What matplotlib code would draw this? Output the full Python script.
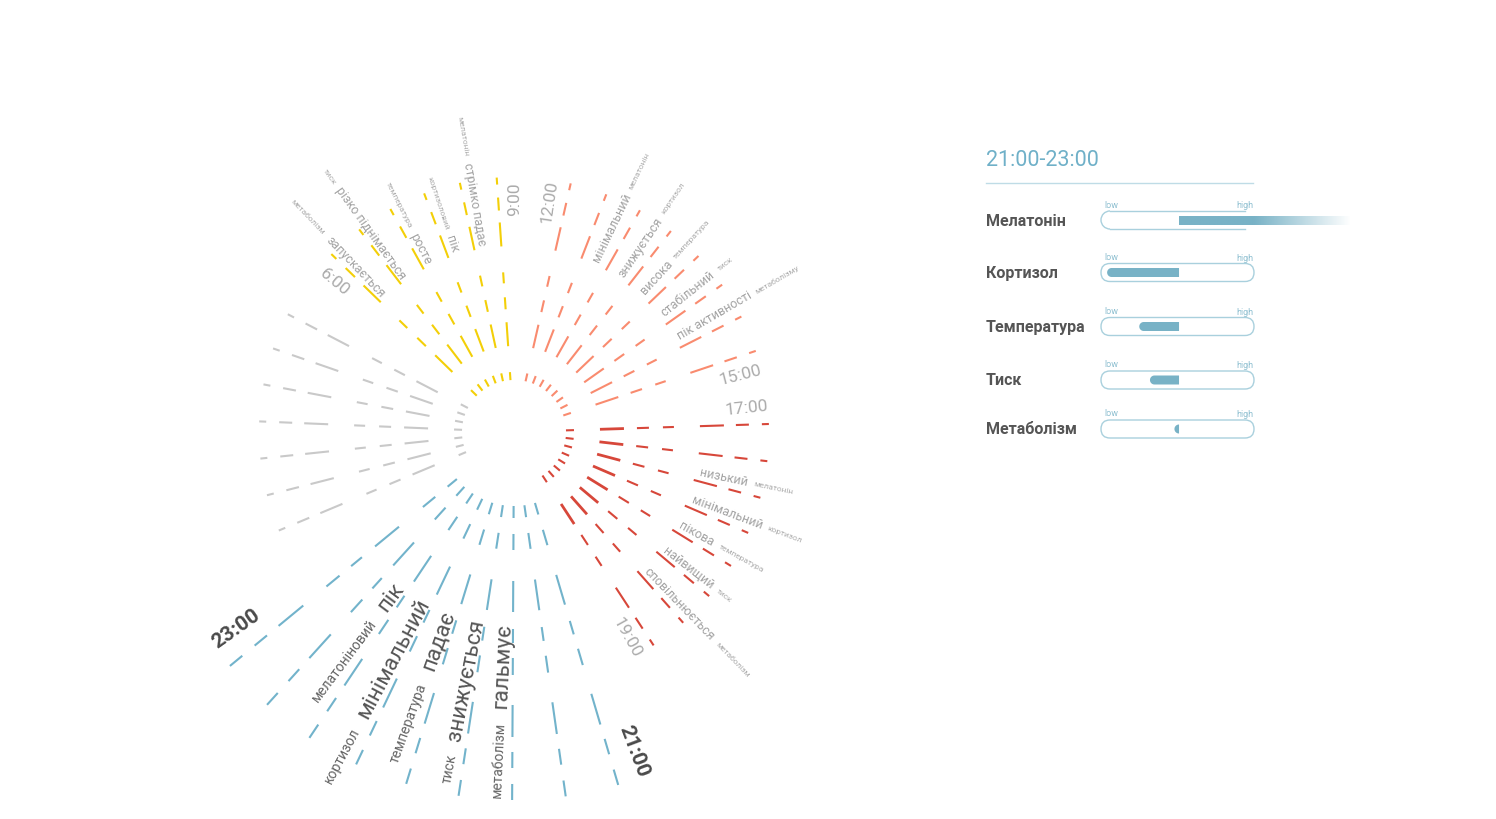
import numpy as np
import matplotlib
matplotlib.use("Agg")
import matplotlib.pyplot as plt
from matplotlib.patches import Arc, FancyBboxPatch
from matplotlib.textpath import TextPath
from matplotlib.font_manager import FontProperties

plt.rcParams['font.family'] = ['Roboto', 'DejaVu Sans']

# ---------------- radial chart data ----------------
N_SLOTS = 43          # ray slots around the circle
START_DEG = 1.8       # angle of slot 0 (deg, counter-clockwise from east)

sector_colors = ['#D7473A', '#72B3CB', '#C9C9C9', '#F3CF08', '#F98B6F']
sector_first_slot = [0, 9, 19, 27, 34]
sector_ray_count = [8, 9, 7, 6, 8]
selected_sector = 1   # 21:00-23:00

# dash radii along every ray (px from the centre)
dash_r0 = [52, 86, 123, 149, 186, 222, 248]
dash_r1 = [60, 110, 135, 160, 210, 235, 255]
selected_r0 = [74, 102, 149, 197, 226, 273, 320, 352]
selected_r1 = [86, 118, 180, 211, 243, 305, 336, 368]

time_labels = ['17:00', '19:00', '21:00', '23:00', '6:00', '9:00', '12:00', '15:00']
time_slots = [-0.5, 7.5, 8.5, 17.5, 26.5, 32.5, 33.5, 41.5]

red_words = ['низький', 'мінімальний', 'пікова', 'найвищий', 'сповільнюється']
red_vars = ['мелатонін', 'кортизол', 'температура', 'тиск', 'метаболізм']
red_slots = [1.65, 2.68, 3.68, 4.73, 5.72]

blue_words = ['пік', 'мінімальний', 'падає', 'знижується', 'гальмує']
blue_vars = ['мелатоніновий', 'кортизол', 'температура', 'тиск', 'метаболізм']
blue_slots = [15.35, 14.32, 13.36, 12.27, 11.28]

yellow_words = ['запускається', 'різко піднімається', 'росте', 'пік', 'стрімко падає']
yellow_vars = ['метаболізм', 'тиск', 'температура', 'кортизоловий', 'мелатонін']
yellow_slots = [27.25, 28.2, 29.25, 30.28, 31.3]

orange_words = ['мінімальний', 'знижується', 'висока', 'стабільний', 'пік активності']
orange_vars = ['мелатонін', 'кортизол', 'температура', 'тиск', 'метаболізму']
orange_slots = [35.52, 36.55, 37.55, 38.6, 39.6]

# ---------------- side panel data ----------------
panel_title = '21:00-23:00'
panel_vars = ['Мелатонін', 'Кортизол', 'Температура', 'Тиск', 'Метаболізм']
level_start = [0.51, 0.04, 0.25, 0.32, 0.48]
level_end = [1.63, 0.51, 0.51, 0.51, 0.51]   # melatonin runs past "high" and fades

W, H, DPI = 1496, 820, 100
CX, CY, R = 514, 433, 420

fig = plt.figure(figsize=(W / DPI, H / DPI), dpi=DPI)
fig.patch.set_facecolor('white')

panel = fig.add_axes([0, 0, 1, 1])
panel.set_xlim(0, W)
panel.set_ylim(H, 0)
panel.axis('off')

rad = fig.add_axes([(CX - R) / W, (H - CY - R) / H, 2 * R / W, 2 * R / H], projection='polar')
rad.set_ylim(0, R)
rad.set_axis_off()


def slot_deg(s):
    return START_DEG - s * 360.0 / N_SLOTS


def text_px(s, size, weight='normal'):
    fp = FontProperties(family='Roboto', size=size, weight=weight)
    return TextPath((0, 0), s, prop=fp).get_extents().width * DPI / 72


def radial_text(slot, r, s, end='center', **kw):
    deg = slot_deg(slot)
    d = (deg + 180) % 360 - 180
    outward = -91 <= d <= 91
    rot = d if outward else (d - 180 if d > 0 else d + 180)
    if end == 'center':
        ha = 'center'
    else:
        ha = 'left' if outward else 'right'
    rad.text(np.radians(deg), r, s, rotation=rot, rotation_mode='anchor',
             ha=ha, va='center', **kw)


# rays
for k, (color, first, count) in enumerate(zip(sector_colors, sector_first_slot, sector_ray_count)):
    sel = k == selected_sector
    r0s, r1s = (selected_r0, selected_r1) if sel else (dash_r0, dash_r1)
    for slot in range(first, first + count):
        th = np.radians(slot_deg(slot))
        for j, (a, b) in enumerate(zip(r0s, r1s)):
            lw = 1.5
            if k == 0 and j == 1:
                lw = 2.0
            rad.plot([th, th], [a, b], color=color, lw=lw, solid_capstyle='butt')

# time labels
sel_first = sector_first_slot[selected_sector]
sel_last = sel_first + sector_ray_count[selected_sector] - 1
for txt, s in zip(time_labels, time_slots):
    if sel_first - 0.5 <= s <= sel_last + 0.5:
        radial_text(s, 340, txt, fontsize=15, color='#4A4A4A', weight='bold')
    else:
        radial_text(s, 234, txt, fontsize=12.5, color='#ABABAB')

# sector phrases
groups = [(red_words, red_vars, red_slots, False),
          (blue_words, blue_vars, blue_slots, True),
          (yellow_words, yellow_vars, yellow_slots, False),
          (orange_words, orange_vars, orange_slots, False)]
for words, vars_, slots, sel in groups:
    main_size = 16 if sel else 9
    var_size = 10 if sel else 6
    gap = 17 if sel else 8
    main_c = '#555555' if sel else '#A3A3A3'
    var_c = '#666666' if sel else '#ADADAD'
    for w, v, s in zip(words, vars_, slots):
        radial_text(s, 190, w, end='inner', fontsize=main_size, color=main_c)
        radial_text(s, 190 + text_px(w, main_size) + gap, v, end='inner',
                    fontsize=var_size, color=var_c)

# ---------------- side panel ----------------
BLUE = '#78B2C6'
OUTLINE = '#A9D0DD'
BAR_X, BAR_W, BAR_H, FILL_H = 1101, 153, 18, 9
row_y = [221, 273.5, 327.5, 381, 430]

panel.text(986, 161, panel_title, fontsize=15.5, color='#6FB0C8', va='center',
           ha='left')
panel.plot([986, 1253], [183.5, 183.5], color='#BFDCE6', lw=1)

for i, (name, a, b) in enumerate(zip(panel_vars, level_start, level_end)):
    y = row_y[i]
    panel.text(986, y, name, fontsize=11.5, color='#555555', va='center',
               ha='left', weight='bold')
    panel.text(BAR_X + 3, y - 16, 'low', fontsize=6.5, color='#8DBFD0', va='center', ha='left')
    panel.text(BAR_X + BAR_W, y - 15, 'high', fontsize=6.5, color='#8DBFD0', va='center', ha='right')

    x0 = BAR_X + a * BAR_W
    x1 = BAR_X + b * BAR_W
    if b > 1:
        # open-ended outline, fill fading out to the right
        panel.add_patch(Arc((BAR_X + 9, y), 18, 18, theta1=90, theta2=270, color=OUTLINE, lw=1))
        panel.plot([BAR_X + 9, BAR_X + BAR_W - 9], [y - 9, y - 9], color=OUTLINE, lw=1)
        panel.plot([BAR_X + 9, BAR_X + BAR_W - 9], [y + 9, y + 9], color=OUTLINE, lw=1)
        xs = np.linspace(x0, x1, 300)
        alpha = np.clip((x1 - xs) / (x1 - (BAR_X + BAR_W)), 0, 1)
        rgba = np.zeros((1, xs.size, 4))
        rgba[..., :3] = matplotlib.colors.to_rgb(BLUE)
        rgba[0, :, 3] = alpha
        panel.imshow(rgba, extent=(x0, x1, y + FILL_H / 2, y - FILL_H / 2),
                     aspect='auto', interpolation='bilinear', zorder=3)
    else:
        panel.add_patch(FancyBboxPatch((BAR_X, y - BAR_H / 2), BAR_W, BAR_H,
                                       boxstyle='round,pad=0,rounding_size=9',
                                       fc='none', ec=OUTLINE, lw=1))
        rr = FILL_H / 2
        t = np.linspace(np.pi / 2, 3 * np.pi / 2, 30)
        px = np.concatenate([x0 + rr + rr * np.cos(t), [x1, x1]])
        py = np.concatenate([y - rr * np.sin(t), [y + rr, y - rr]])
        panel.fill(px, py, color=BLUE, lw=0)

panel.set_xlim(0, W)
panel.set_ylim(H, 0)

fig.savefig('out.png', dpi=DPI, facecolor='white')
